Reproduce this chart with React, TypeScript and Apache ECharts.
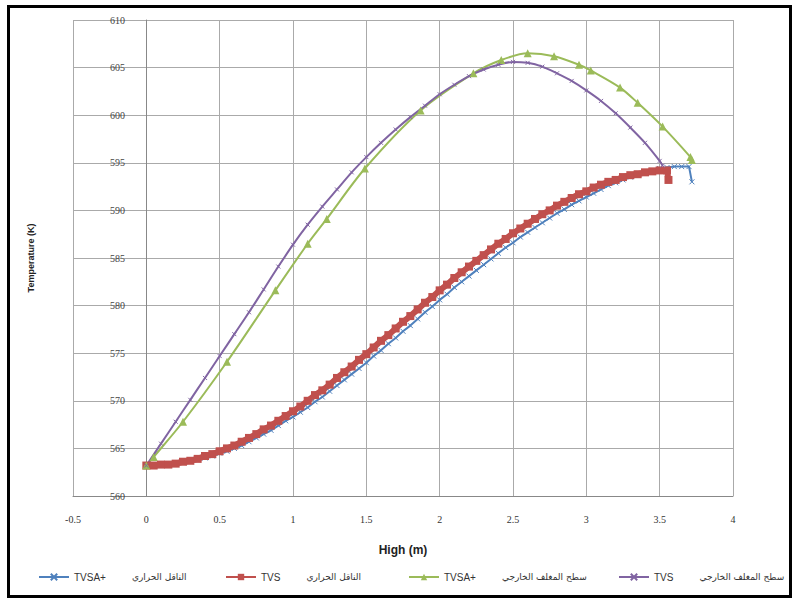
import React, { useEffect, useRef } from "react";
import * as echarts from "echarts";

// ---- data ----
const xTicks = { min: -0.5, max: 4, interval: 0.5 };
const yTicks = { min: 560, max: 610, interval: 5 };

const legendLatin = ["TVSA+", "TVS", "TVSA+", "TVS"];
const legendArabic = ["الناقل الحراري", "الناقل الحراري", "سطح المغلف الخارجي", "سطح المغلف الخارجي"];

// TVSA+ coolant (blue)
const blueX = [
  0, 0.05, 0.1, 0.15, 0.2, 0.25, 0.3, 0.35, 0.4, 0.45,
  0.5, 0.55, 0.6, 0.65, 0.7, 0.75, 0.8, 0.85, 0.9, 0.95,
  1.0, 1.05, 1.1, 1.15, 1.2, 1.25, 1.3, 1.35, 1.4, 1.45,
  1.5, 1.55, 1.6, 1.65, 1.7, 1.75, 1.8, 1.85, 1.9, 1.95,
  2.0, 2.05, 2.1, 2.15, 2.2, 2.25, 2.3, 2.35, 2.4, 2.45,
  2.5, 2.55, 2.6, 2.65, 2.7, 2.75, 2.8, 2.85, 2.9, 2.95,
  3.0, 3.05, 3.1, 3.15, 3.2, 3.25, 3.3, 3.35, 3.4, 3.45,
  3.5, 3.55, 3.6, 3.65, 3.7, 3.72,
];
const blueY = [
  563.2, 563.2, 563.2, 563.3, 563.4, 563.5, 563.6, 563.8, 564.0, 564.2,
  564.5, 564.7, 565.0, 565.3, 565.7, 566.1, 566.5, 566.9, 567.4, 567.9,
  568.3, 568.8, 569.3, 569.9, 570.4, 571.0, 571.6, 572.2, 572.8, 573.4,
  574.0, 574.7, 575.3, 576.0, 576.6, 577.3, 577.9, 578.6, 579.3, 579.9,
  580.6, 581.2, 581.9, 582.5, 583.1, 583.7, 584.3, 584.9, 585.5, 586.1,
  586.6, 587.2, 587.7, 588.2, 588.7, 589.2, 589.7, 590.1, 590.6, 591.0,
  591.4, 591.8, 592.2, 592.6, 592.9, 593.2, 593.5, 593.8, 594.0, 594.2,
  594.4, 594.5, 594.6, 594.6, 594.6, 593.0,
];

// TVS coolant (red)
const redX = [
  0, 0.05, 0.1, 0.15, 0.2, 0.25, 0.3, 0.35, 0.4, 0.45,
  0.5, 0.55, 0.6, 0.65, 0.7, 0.75, 0.8, 0.85, 0.9, 0.95,
  1.0, 1.05, 1.1, 1.15, 1.2, 1.25, 1.3, 1.35, 1.4, 1.45,
  1.5, 1.55, 1.6, 1.65, 1.7, 1.75, 1.8, 1.85, 1.9, 1.95,
  2.0, 2.05, 2.1, 2.15, 2.2, 2.25, 2.3, 2.35, 2.4, 2.45,
  2.5, 2.55, 2.6, 2.65, 2.7, 2.75, 2.8, 2.85, 2.9, 2.95,
  3.0, 3.05, 3.1, 3.15, 3.2, 3.25, 3.3, 3.35, 3.4, 3.45,
  3.5, 3.55, 3.56,
];
const redY = [
  563.2, 563.2, 563.3, 563.3, 563.4, 563.6, 563.7, 563.9, 564.2, 564.4,
  564.7, 565.0, 565.3, 565.7, 566.1, 566.5, 567.0, 567.4, 567.9, 568.4,
  568.9, 569.4, 570.0, 570.6, 571.1, 571.7, 572.4, 573.0, 573.6, 574.3,
  574.9, 575.6, 576.3, 576.9, 577.6, 578.3, 578.9, 579.6, 580.3, 580.9,
  581.6, 582.2, 582.9, 583.5, 584.1, 584.7, 585.3, 585.9, 586.5, 587.0,
  587.6, 588.1, 588.6, 589.1, 589.6, 590.0, 590.5, 590.9, 591.3, 591.7,
  592.0, 592.4, 592.7, 593.0, 593.2, 593.5, 593.7, 593.8, 594.0, 594.1,
  594.2, 594.2, 593.2,
];

// TVSA+ outer cladding surface (green)
const greenX = [0, 0.05, 0.25, 0.55, 0.88, 1.1, 1.23, 1.49, 1.87, 2.23, 2.42, 2.6, 2.78, 2.95, 3.03, 3.23, 3.35, 3.52, 3.71, 3.72];
const greenY = [563.2, 564.1, 567.8, 574.1, 581.6, 586.5, 589.1, 594.4, 600.5, 604.4, 605.8, 606.5, 606.2, 605.3, 604.7, 602.9, 601.3, 598.8, 595.6, 595.3];

// TVS outer cladding surface (purple)
const purpleX = [
  0, 0.1, 0.2, 0.3, 0.4, 0.5, 0.6, 0.7, 0.8, 0.9,
  1.0, 1.1, 1.2, 1.3, 1.4, 1.5, 1.6, 1.7, 1.8, 1.9,
  2.0, 2.1, 2.2, 2.3, 2.4, 2.5, 2.6, 2.7, 2.8, 2.9,
  3.0, 3.1, 3.2, 3.3, 3.4, 3.5, 3.52,
];
const purpleY = [
  563.2, 565.5, 567.8, 570.1, 572.4, 574.7, 577.0, 579.3, 581.7, 584.1,
  586.4, 588.5, 590.4, 592.2, 594.0, 595.6, 597.1, 598.5, 599.8, 601.0,
  602.2, 603.2, 604.1, 604.8, 605.3, 605.6, 605.5, 605.1, 604.4, 603.6,
  602.6, 601.5, 600.2, 598.7, 597.1, 595.2, 594.7,
];

const colors = ["#4F81BD", "#C0504D", "#9BBB59", "#8064A2"];
const CROSS = "path://M0,0L10,10M10,0L0,10";

const zip = (xs: number[], ys: number[]) => xs.map((x, i) => [x, ys[i]]);

export default function App() {
  const ref = useRef<HTMLDivElement>(null);
  useEffect(() => {
    if (!ref.current) return;
    const chart = echarts.init(ref.current, null, { renderer: "svg" });
    const names = legendLatin.map((l, i) => l + " " + legendArabic[i]);
    const legendLeft = [38, 225, 408, 618];
    const tickFont = "'Liberation Serif', serif";
    chart.setOption({
      animation: false,
      backgroundColor: "#ffffff",
      grid: { left: 73, top: 20, width: 660, height: 476, containLabel: false },
      xAxis: {
        type: "value",
        min: xTicks.min,
        max: xTicks.max,
        interval: xTicks.interval,
        name: "High (m)",
        nameLocation: "middle",
        nameGap: 48,
        nameTextStyle: { fontFamily: "'Liberation Sans', sans-serif", fontWeight: "bold", fontSize: 12, color: "#222" },
        axisLine: { onZero: false, lineStyle: { color: "#888", width: 1 } },
        axisTick: { show: false },
        axisLabel: { margin: 18, fontFamily: tickFont, fontSize: 10, color: "#333" },
        splitLine: { show: true, lineStyle: { color: "#aaaaaa", width: 1 } },
      },
      yAxis: {
        type: "value",
        min: yTicks.min,
        max: yTicks.max,
        interval: yTicks.interval,
        name: "Temperature (K)",
        nameLocation: "middle",
        nameRotate: 90,
        nameGap: 38,
        nameTextStyle: { fontFamily: "'Liberation Sans', sans-serif", fontWeight: "bold", fontSize: 9, color: "#222" },
        axisLine: { show: true, lineStyle: { color: "#888", width: 1 } },
        axisTick: { show: false },
        axisLabel: { inside: true, margin: 37, fontFamily: tickFont, fontSize: 10, color: "#444" },
        splitLine: { show: true, lineStyle: { color: "#aaaaaa", width: 1 } },
      },
      legend: names.map((n, i) => ({
        data: [n],
        left: legendLeft[i],
        top: 572,
        itemWidth: 30,
        itemHeight: 8,
        padding: 0,
        formatter: () => `{l|${legendLatin[i]}}{a|${legendArabic[i]}}`,
        textStyle: {
          rich: {
            l: { fontFamily: "'Liberation Sans', sans-serif", fontSize: 10, color: "#333" },
            a: { fontFamily: "'DejaVu Sans', sans-serif", fontSize: 9, color: "#333", padding: [0, 0, 0, 26] },
          },
        },
      })),
      graphic: [
        {
          type: "rect",
          shape: { x: 8.5, y: 6.5, width: 782, height: 590 },
          style: { fill: "none", stroke: "#000", lineWidth: 3 },
          silent: true,
          z: 100,
        },
      ],
      series: [
        {
          name: names[0],
          type: "line",
          data: zip(blueX, blueY),
          symbol: CROSS,
          symbolSize: 5,
          itemStyle: { color: colors[0], borderColor: colors[0], borderWidth: 1 },
          lineStyle: { color: colors[0], width: 2 },
        },
        {
          name: names[1],
          type: "line",
          data: zip(redX, redY),
          symbol: "rect",
          symbolSize: 8,
          itemStyle: { color: colors[1] },
          lineStyle: { color: colors[1], width: 6 },
        },
        {
          name: names[2],
          type: "line",
          data: zip(greenX, greenY),
          symbol: "triangle",
          symbolSize: 8,
          smooth: 0.3,
          itemStyle: { color: colors[2] },
          lineStyle: { color: colors[2], width: 2 },
        },
        {
          name: names[3],
          type: "line",
          data: zip(purpleX, purpleY),
          symbol: CROSS,
          symbolSize: 4,
          smooth: 0.3,
          itemStyle: { color: colors[3], borderColor: colors[3], borderWidth: 1 },
          lineStyle: { color: colors[3], width: 2 },
        },
      ],
    });
    return () => chart.dispose();
  }, []);
  return (
    <div
      ref={ref}
      style={{ position: "fixed", left: 0, top: 0, width: 800, height: 603, background: "#fff" }}
    />
  );
}
